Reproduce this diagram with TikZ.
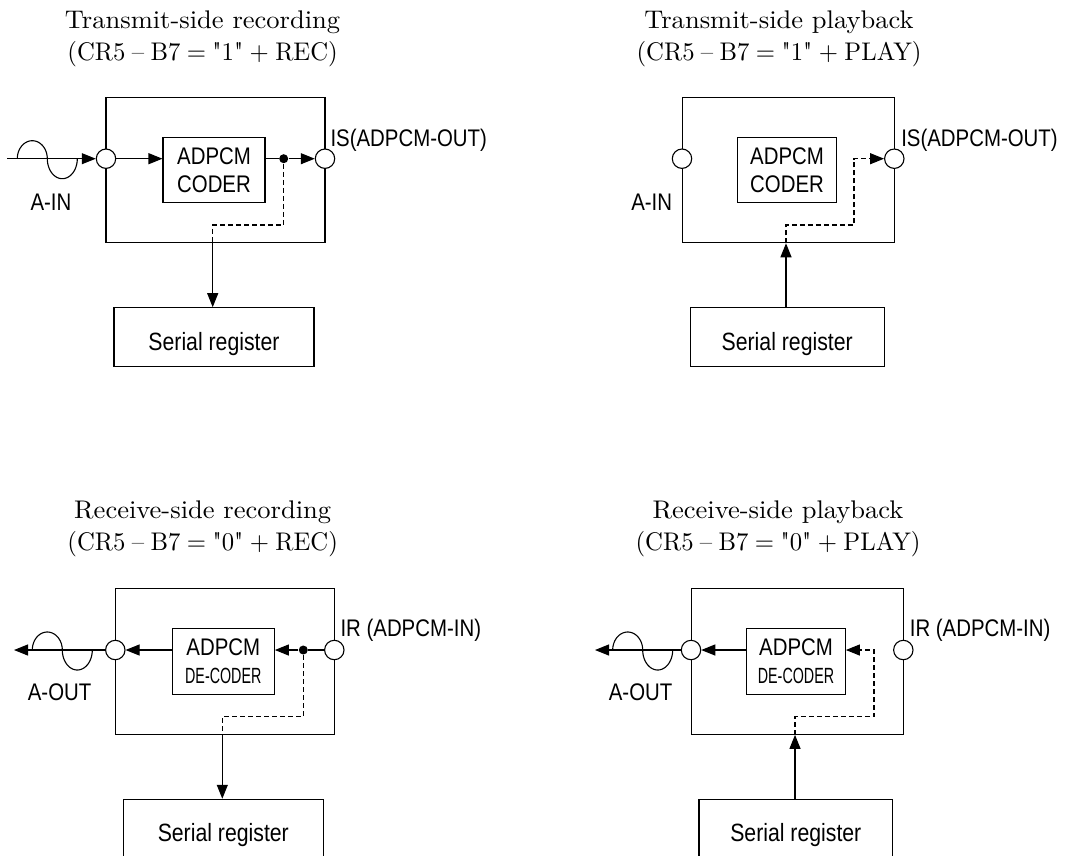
\documentclass[tikz,border=0pt]{standalone}
\usepackage{fontspec}
\usetikzlibrary{arrows.meta}
\newfontfamily\condfont{Liberation Sans}[FakeStretch=0.85]
\newfontfamily\narrowfont{Liberation Sans}[FakeStretch=0.65]
\newfontfamily\titlefont{lmroman10-regular}[Extension=.otf,FakeStretch=1.04]
\newfontfamily\titlesub{lmroman10-regular}[Extension=.otf,FakeStretch=0.97]
\newcommand\subline[1]{{\titlesub\spaceskip=0.25em plus 0.05em minus 0.05em #1}}
\newcommand\sinewave[2]{%
  \draw plot[domain=0:180,samples=30,variable=\t] ({#1+15-15*cos(\t)},{#2-18*sin(\t)})
       -- plot[domain=0:180,samples=30,variable=\t] ({#1+45-15*cos(\t)},{#2+20*sin(\t)});
}
\tikzset{
  outer/.style={draw, inner sep=0pt},
  block/.style={draw, inner sep=0pt, align=center, font=\condfont\fontsize{24}{28}\selectfont},
  reg/.style={draw, inner sep=0pt, minimum height=59pt, text height=26pt, text depth=0pt, font=\condfont\fontsize{25}{30}\selectfont},
  port/.style={draw, circle, fill=white, minimum size=19.4pt, inner sep=0pt},
  junction/.style={circle, fill=black, minimum size=9pt, inner sep=0pt},
  lbl/.style={inner sep=0pt, anchor=base west, font=\condfont\fontsize{24}{28}\selectfont},
  ttl/.style={inner sep=0pt, align=center, font=\titlefont\fontsize{25.5}{31.7}\selectfont},
  flow/.style={-{Triangle[length=14pt,width=11pt]}},
  ctl/.style={dash pattern=on 5pt off 3pt}
}
\begin{document}
\begin{tikzpicture}[x=1pt, y=-1pt, line width=1.1pt]
\clip (0,0) rectangle (1078,855);
\fill[white] (0,0) rectangle (1078,855);

% ---------- Panel 1: Transmit-side recording ----------
\node[ttl] (t1) at (202.6,38.5) {Transmit-side recording\\\subline{(CR5 – B7 = "1" + REC)}};
\node[outer, minimum width=219pt, minimum height=145pt] (o1) at (215.5,170.2) {};
\node[block, minimum width=102pt, minimum height=65pt] (c1) at (214,170.2) {ADPCM\\CODER};
\node[port] (l1) at (106,158.7) {};
\node[port] (r1) at (325,158.7) {};
\node[junction] (j1) at (283.7,158.7) {};
\node[reg, minimum width=200pt] (s1) at (214,337.2) {Serial register};
\node[lbl] (ain1) at (30,210) {A-IN};
\node[lbl] (is1) at (330,146) {IS(ADPCM-OUT)};
\coordinate (src1) at (7.3,158.7);
\coordinate (k1) at (212.7,225);
\draw[flow] (src1) -- (l1);
\sinewave{17.3}{158.7}
\draw[flow] (l1) -- (l1 -| c1.west);
\draw (j1 -| c1.east) -- (j1);
\draw[flow] (j1) -- (r1);
\draw[ctl] (j1) |- (k1) -- (k1 |- o1.south);
\draw[flow] (k1 |- o1.south) -- (k1 |- s1.north);

% ---------- Panel 2: Transmit-side playback ----------
\node[ttl] (t2) at (779,38.5) {Transmit-side playback\\\subline{(CR5 – B7 = "1" + PLAY)}};
\node[outer, minimum width=212.3pt, minimum height=145pt] (o2) at (788.2,170.2) {};
\node[block, minimum width=98.6pt, minimum height=65pt] (c2) at (787,170.2) {ADPCM\\CODER};
\node[port] (l2) at (682,158.7) {};
\node[port] (r2) at (894.3,158.7) {};
\node[reg, minimum width=194.3pt] (s2) at (787.2,337.2) {Serial register};
\node[lbl] (ain2) at (630.7,210) {A-IN};
\node[lbl] (is2) at (900.7,146) {IS(ADPCM-OUT)};
\coordinate (k2) at (786,225);
\coordinate (m2) at (854,225);
\draw[flow] (k2 |- s2.north) -- (k2 |- o2.south);
\draw[ctl, flow] (k2 |- o2.south) -- (k2) -- (m2) |- (r2);

% ---------- Panel 3: Receive-side recording ----------
\node[ttl] (t3) at (202.7,528.5) {Receive-side recording\\\subline{(CR5 – B7 = "0" + REC)}};
\node[outer, minimum width=219pt, minimum height=145.6pt] (o3) at (224.8,661.5) {};
\node[block, minimum width=102pt, minimum height=65.7pt] (d3) at (223.3,661.2) {ADPCM\\{\narrowfont\fontsize{22}{28}\selectfont DE-CODER}};
\node[port] (l3) at (115.3,650) {};
\node[port] (r3) at (334.3,650) {};
\node[junction] (j3) at (303.3,650) {};
\node[reg, minimum width=200pt] (s3) at (223.3,828.8) {Serial register};
\node[lbl] (aout3) at (27.3,700) {A-OUT};
\node[lbl] (ir3) at (340,636.7) {IR (ADPCM-IN)};
\coordinate (dst3) at (14,650);
\coordinate (k3) at (222.3,716.7);
\draw (r3) -- (j3);
\draw[flow] (j3) -- (j3 -| d3.east);
\draw[flow] (l3 -| d3.west) -- (l3);
\draw[flow] (l3) -- (dst3);
\sinewave{32.3}{650}
\draw[ctl] (j3) |- (k3) -- (k3 |- o3.south);
\draw[flow] (k3 |- o3.south) -- (k3 |- s3.north);

% ---------- Panel 4: Receive-side playback ----------
\node[ttl] (t4) at (778,528.5) {Receive-side playback\\\subline{(CR5 – B7 = "0" + PLAY)}};
\node[outer, minimum width=212.3pt, minimum height=145.6pt] (o4) at (797.2,661.5) {};
\node[block, minimum width=98.6pt, minimum height=65.7pt] (d4) at (796,661.2) {ADPCM\\{\narrowfont\fontsize{22}{28}\selectfont DE-CODER}};
\node[port] (l4) at (691,650) {};
\node[port] (r4) at (903.3,650) {};
\node[reg, minimum width=193.7pt] (s4) at (795.8,828.8) {Serial register};
\node[lbl] (aout4) at (608.3,700) {A-OUT};
\node[lbl] (ir4) at (909.3,636.7) {IR (ADPCM-IN)};
\coordinate (dst4) at (595,650);
\coordinate (k4) at (795,716.7);
\coordinate (m4) at (874,716.7);
\draw[flow] (k4 |- s4.north) -- (k4 |- o4.south);
\draw[ctl, flow] (k4 |- o4.south) -- (k4) -- (m4) |- (l4 -| d4.east);
\draw[flow] (l4 -| d4.west) -- (l4);
\draw[flow] (l4) -- (dst4);
\sinewave{612.7}{650}
\end{tikzpicture}
\end{document}
